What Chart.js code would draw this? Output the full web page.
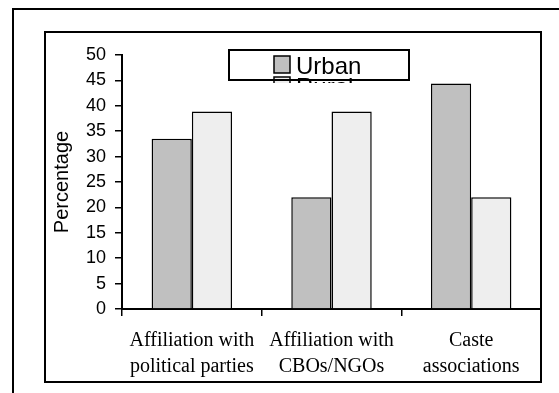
<!DOCTYPE html>
<html>
<head>
<meta charset="utf-8">
<style>
  html, body { margin: 0; padding: 0; background: #fff; }
  #wrap { width: 559px; height: 393px; }
</style>
<script src="https://cdn.jsdelivr.net/npm/chart.js@4.4.1/dist/chart.umd.min.js"></script>
</head>
<body>
<div id="wrap"><canvas id="c" width="559" height="393"></canvas></div>
<script>
// Categories (two-line labels) and series values
const categories = [
  ['Affiliation with', 'political parties'],
  ['Affiliation with', 'CBOs/NGOs'],
  ['Caste', 'associations']
];
const seriesNames = ['Urban', 'Rural'];
const urbanValues = [33.5, 22.0, 44.4];
const ruralValues = [38.9, 38.9, 22.0];
const yTicks = [0, 5, 10, 15, 20, 25, 30, 35, 40, 45, 50];

const SANS = "'Liberation Sans', Arial, sans-serif";
const SERIF = "'Liberation Serif', 'Times New Roman', serif";

// Page frame: outer open frame and the inner boxed chart panel
const framePlugin = {
  id: 'frame',
  beforeDraw(chart) {
    const ctx = chart.ctx;
    ctx.save();
    ctx.fillStyle = '#fff';
    ctx.fillRect(0, 0, chart.width, chart.height);
    ctx.restore();
  },
  afterDraw(chart) {
    const ctx = chart.ctx;
    ctx.save();
    ctx.strokeStyle = '#000';
    ctx.lineWidth = 2;
    // outer frame (left and top edges)
    ctx.beginPath();
    ctx.moveTo(13, 393);
    ctx.lineTo(13, 9);
    ctx.lineTo(559, 9);
    ctx.stroke();
    // inner panel
    ctx.strokeRect(45, 32, 496, 350);
    ctx.restore();
  }
};

// Boxed legend whose second entry runs past the box bottom and is cut off
const boxLegendPlugin = {
  id: 'boxLegend',
  afterDatasetsDraw(chart) {
    const ctx = chart.ctx;
    const bx = 229, by = 50, bw = 180, bh = 30;
    ctx.save();
    ctx.fillStyle = '#fff';
    ctx.fillRect(bx, by, bw, bh);
    ctx.beginPath();
    ctx.rect(bx - 2, by - 2, bw + 4, bh + 5);
    ctx.clip();
    chart.data.datasets.forEach((ds, i) => {
      const y = 56 + i * 21;
      ctx.fillStyle = ds.backgroundColor;
      ctx.fillRect(274, y, 16, 17);
      ctx.strokeStyle = '#000';
      ctx.lineWidth = 1.5;
      ctx.strokeRect(274, y, 16, 17);
      ctx.fillStyle = '#000';
      ctx.font = '24px ' + SANS;
      ctx.textBaseline = 'alphabetic';
      ctx.textAlign = 'left';
      ctx.fillText(ds.label, 296, y + 18);
    });
    ctx.restore();
    ctx.save();
    ctx.strokeStyle = '#000';
    ctx.lineWidth = 2;
    ctx.strokeRect(bx, by, bw, bh);
    ctx.restore();
  }
};

const chart = new Chart(document.getElementById('c'), {
  type: 'bar',
  data: {
    labels: categories,
    datasets: [
      {
        label: seriesNames[0],
        data: urbanValues,
        backgroundColor: '#c0c0c0',
        borderColor: '#000',
        borderWidth: 1.5,
        categoryPercentage: 0.576,
        barPercentage: 1.0
      },
      {
        label: seriesNames[1],
        data: ruralValues,
        backgroundColor: '#eeeeee',
        borderColor: '#000',
        borderWidth: 1.5,
        categoryPercentage: 0.576,
        barPercentage: 1.0
      }
    ]
  },
  options: {
    responsive: false,
    animation: false,
    devicePixelRatio: 1,
    layout: { padding: { left: 45, right: 18, top: 55, bottom: 0 } },
    plugins: {
      legend: { display: false },
      tooltip: { enabled: false }
    },
    scales: {
      x: {
        afterFit(scale) { scale.height = 84; },
        grid: {
          display: true,
          offset: true,
          drawOnChartArea: false,
          drawTicks: true,
          tickLength: 7,
          color: '#000',
          lineWidth: 1.5
        },
        border: { display: true, color: '#000', width: 2 },
        ticks: {
          color: '#000',
          padding: 12,
          maxRotation: 0,
          autoSkip: false,
          font: { family: SERIF, size: 20, lineHeight: 1.3 }
        }
      },
      y: {
        min: 0,
        max: 50,
        afterFit(scale) { scale.width = 77; },
        afterBuildTicks(scale) { scale.ticks = yTicks.map(v => ({ value: v })); },
        grid: {
          display: true,
          drawOnChartArea: false,
          drawTicks: true,
          tickLength: 7,
          color: '#000',
          lineWidth: 1.5
        },
        border: { display: true, color: '#000', width: 2 },
        ticks: {
          color: '#000',
          padding: 9,
          font: { family: SANS, size: 18 }
        },
        title: {
          display: true,
          text: 'Percentage',
          color: '#000',
          padding: { top: 5, bottom: 0 },
          font: { family: SANS, size: 20, lineHeight: 1.2 }
        }
      }
    }
  },
  plugins: [framePlugin, boxLegendPlugin]
});
</script>
</body>
</html>
